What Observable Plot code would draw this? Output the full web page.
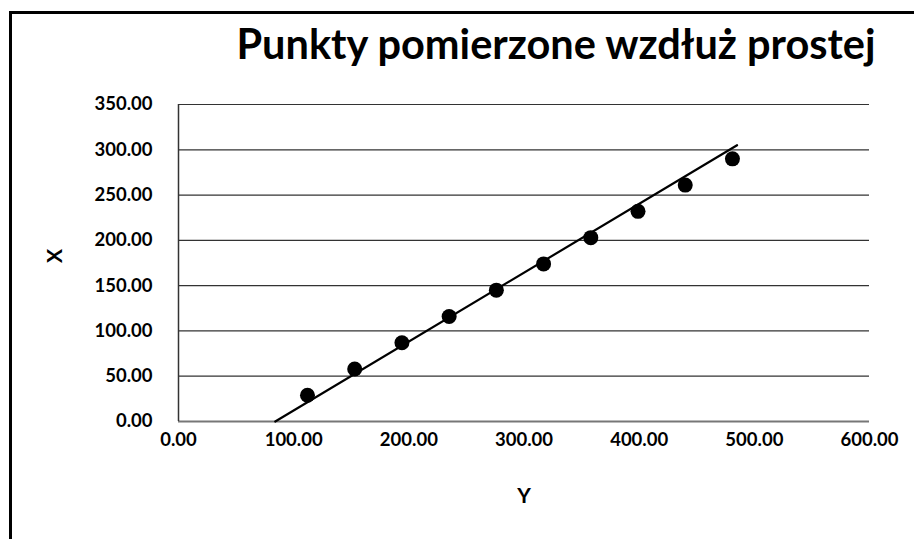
<!DOCTYPE html>
<html>
<head>
<meta charset="utf-8">
<script src="https://cdn.jsdelivr.net/npm/d3@7"></script>
<script src="https://cdn.jsdelivr.net/npm/@observablehq/plot@0.6"></script>
<style>
  html, body { margin: 0; padding: 0; background: #fff; }
  body { width: 914px; height: 539px; overflow: hidden; position: relative; font-family: Lato, "Open Sans", sans-serif; }
  #frame { position: absolute; left: 9px; top: 11px; width: 1000px; height: 1000px; border: 3px solid #000; box-sizing: border-box; pointer-events: none; }
  #title { position: relative; height: 80px; width: 914px; }
  #title span { position: absolute; left: 556px; top: 19px; transform: translateX(-50%); white-space: nowrap; font-size: 41.5px; font-weight: 700; color: #000; line-height: 1.2; }
  #chart { position: relative; }
</style>
</head>
<body>
<div id="frame"></div>
<div id="title"><span>Punkty pomierzone wzdłuż prostej</span></div>
<div id="chart"></div>
<script>
// Horizontal axis is labelled "Y", vertical axis is labelled "X"
const pointsY = [112, 153, 194, 235, 276, 317, 358, 399, 440, 481];
const pointsX = [29, 58, 87, 116, 145, 174, 203, 232, 261, 290];
const lineY = [84, 485];
const lineX = [0, 305];
const hTicks = [0, 100, 200, 300, 400, 500, 600];
const vTicks = [0, 50, 100, 150, 200, 250, 300, 350];
const hLabel = "Y";
const vLabel = "X";

const points = pointsY.map((y, i) => ({h: y, v: pointsX[i]}));
const line = lineY.map((y, i) => ({h: y, v: lineX[i]}));
const fmt = d => d.toFixed(2);

const chart = Plot.plot({
  width: 914,
  height: 459,
  marginLeft: 178,
  marginRight: 45,
  marginTop: 24,
  marginBottom: 118,
  style: { fontFamily: "Lato, 'Open Sans', sans-serif", fontSize: "18.5px", fontWeight: 700, color: "#000", background: "transparent" },
  x: { domain: [0, 600], ticks: hTicks, tickFormat: fmt, tickSize: 0, tickPadding: 11, label: null },
  y: { domain: [0, 350], ticks: vTicks, tickFormat: fmt, tickSize: 0, tickPadding: 26, label: null },
  marks: [
    Plot.ruleY(vTicks.filter(d => d > 0), { stroke: "#333", strokeWidth: 1.2 }),
    Plot.ruleY([0], { stroke: "#777", strokeWidth: 2 }),
    Plot.ruleX([0], { stroke: "#333", strokeWidth: 1.5 }),
    Plot.line(line, { x: "h", y: "v", stroke: "#000", strokeWidth: 2.2 }),
    Plot.dot(points, { x: "h", y: "v", r: 7.5, fill: "#000", stroke: "none" }),
    Plot.text([hLabel], { frameAnchor: "bottom", dy: 81, fontSize: 21, fontWeight: 700, fill: "#000" }),
    Plot.text([vLabel], { frameAnchor: "left", dx: -123, rotate: -90, fontSize: 21, fontWeight: 700, fill: "#000" })
  ]
});
document.getElementById("chart").appendChild(chart);
</script>
</body>
</html>
